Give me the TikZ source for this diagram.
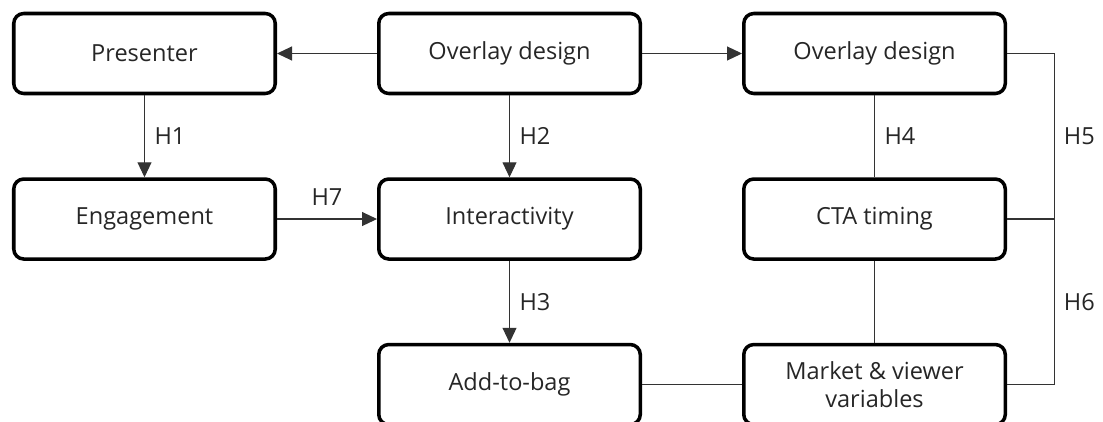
\documentclass[tikz,border=0pt]{standalone}
\usepackage{fontspec}
\setmainfont{Open Sans}
\usetikzlibrary{shapes, arrows, calc, arrows.meta, positioning}
\usepackage{xcolor}

\begin{document}
\begin{tikzpicture}[node distance=1.64cm and 2cm,
            font=\fontsize{13.4}{15.6}\selectfont,
            text=black!85,
            box node/.style={rectangle, rounded corners=0.2cm, draw=black, line width=2pt,
                             minimum width=5.23cm, minimum height=1.6cm, align=center},
            link/.style={draw=black!80, line width=0.6pt},
            arrow/.style={link, -{Triangle[length=0.3cm, width=0.28cm]}},
            hyp/.style={right=0.12cm, inner sep=2pt}]

            \useasboundingbox (0,0) rectangle (22.06,8.42);

            \node[box node] (Pres) at (2.89,7.35) {Presenter};
            \node[box node, right = of Pres] (Over1) {Overlay design};
            \node[box node, right = of Over1] (Over2) {Overlay design};
            \node[box node, below = of Pres] (Eng) {Engagement};
            \node[box node, below = of Over1] (Inter) {Interactivity};
            \node[box node, below = of Over2] (CTA) {CTA timing};
            \node[box node, below = of Inter] (Bag) {Add-to-bag};
            \node[box node, below = of CTA] (Market) {Market \& viewer\\variables};

            % arrows with hypotheses
            \draw[arrow] (Over1) -- (Pres);
            \draw[arrow] (Over1) -- (Over2);
            \draw[arrow] (Pres) -- (Eng) node[midway, hyp] {H1};
            \draw[arrow] (Over1) -- (Inter) node[midway, hyp] {H2};
            \draw[arrow] (Inter) -- (Bag) node[midway, hyp] {H3};
            \draw[arrow] (Eng) -- (Inter) node[midway, above = 0.15cm] {H7};

            % plain links on the right
            \draw[link] (Over2) -- (CTA) node[midway, hyp] {H4};
            \draw[link] (CTA) -- (Market);
            \draw[link] (Bag) -- (Market);

            \coordinate[right = 0.94cm of Over2.east] (busT);
            \coordinate[right = 0.94cm of Market.east] (busB);
            \draw[link] (Over2.east) -- (busT) -- (busB) -- (Market.east);
            \draw[link] (CTA.east) -- (CTA.east -| busT);
            \node[hyp] at ($(busT)!0.5!(CTA.east -| busT)$) {H5};
            \node[hyp] at ($(busB)!0.5!(CTA.east -| busT)$) {H6};

        \end{tikzpicture}
\end{document}
